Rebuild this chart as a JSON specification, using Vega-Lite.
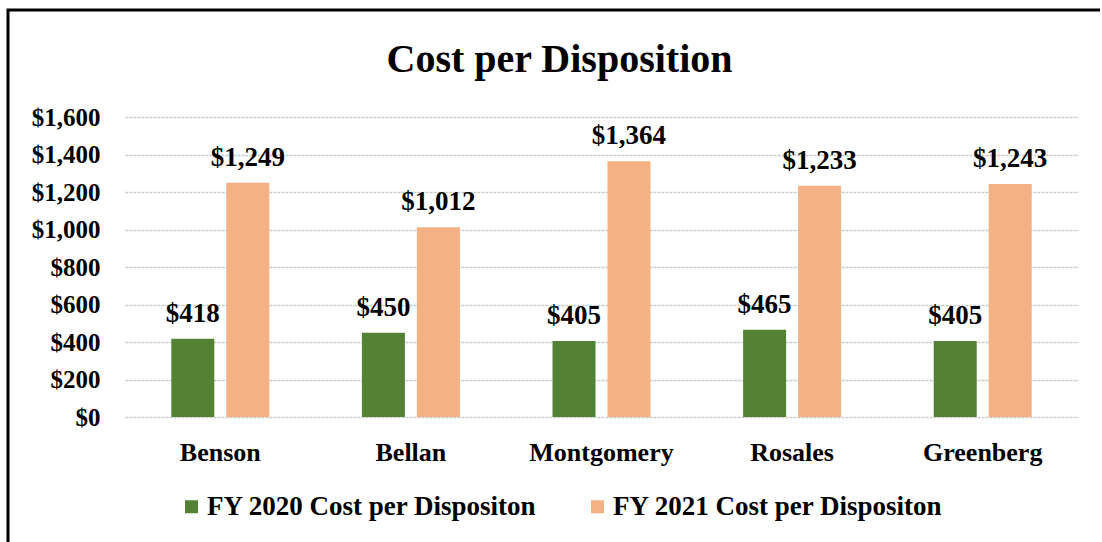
{
  "$schema": "https://vega.github.io/schema/vega-lite/v6.json",
  "width": 953,
  "height": 300,
  "autosize": {"type": "none"},
  "padding": {"left": 125, "top": 117, "right": 22, "bottom": 125},
  "background": "white",
  "title": {"text": "Cost per Disposition", "font": "Liberation Serif", "fontSize": 40, "fontWeight": "bold", "color": "black", "anchor": "middle", "dx": -42, "baseline": "alphabetic", "offset": 0, "dy": 103},
  "data": {"values": [
    {"judge": "Benson", "series": "FY 2020 Cost per Dispositon", "cost": 418},
    {"judge": "Benson", "series": "FY 2021 Cost per Dispositon", "cost": 1249},
    {"judge": "Bellan", "series": "FY 2020 Cost per Dispositon", "cost": 450},
    {"judge": "Bellan", "series": "FY 2021 Cost per Dispositon", "cost": 1012},
    {"judge": "Montgomery", "series": "FY 2020 Cost per Dispositon", "cost": 405},
    {"judge": "Montgomery", "series": "FY 2021 Cost per Dispositon", "cost": 1364},
    {"judge": "Rosales", "series": "FY 2020 Cost per Dispositon", "cost": 465},
    {"judge": "Rosales", "series": "FY 2021 Cost per Dispositon", "cost": 1233},
    {"judge": "Greenberg", "series": "FY 2020 Cost per Dispositon", "cost": 405},
    {"judge": "Greenberg", "series": "FY 2021 Cost per Dispositon", "cost": 1243}
  ]},
  "encoding": {
    "x": {"field": "judge", "type": "nominal", "sort": null, "title": null,
      "scale": {"paddingInner": 0.486, "paddingOuter": 0.243},
      "axis": {"labelAngle": 0, "labelFont": "Liberation Serif", "labelFontWeight": "bold", "labelFontSize": 26, "labelColor": "black", "ticks": false, "domain": false, "labelPadding": 22}},
    "xOffset": {"field": "series", "type": "nominal", "sort": null, "scale": {"paddingInner": 0.218, "paddingOuter": 0}},
    "y": {"field": "cost", "type": "quantitative", "title": null, "scale": {"domain": [0, 1600]},
      "axis": {"values": [0, 200, 400, 600, 800, 1000, 1200, 1400, 1600], "format": "$,.0f", "labelFont": "Liberation Serif", "labelFontWeight": "bold", "labelFontSize": 25, "labelColor": "black", "ticks": false, "domain": false, "labelPadding": 25, "gridColor": "#cccccc", "gridDash": [3, 1], "gridWidth": 1.5}}
  },
  "layer": [
    {"mark": {"type": "bar"},
     "encoding": {"color": {"field": "series", "type": "nominal", "sort": null,
       "scale": {"range": ["#548235", "#f4b183"]},
       "legend": {"title": " ", "titleFontSize": 10, "titlePadding": 303, "orient": "none", "legendX": -117, "legendY": -107, "direction": "horizontal", "padding": 170, "strokeColor": "black", "symbolType": "square", "symbolSize": 169, "symbolStrokeWidth": 0, "labelFont": "Liberation Serif", "labelFontWeight": "bold", "labelFontSize": 27, "labelColor": "black", "labelOffset": 2, "columnPadding": 46, "labelLimit": 0,
         "encode": {"legend": {"update": {"strokeWidth": {"value": 3}}}}}}}},
    {"mark": {"type": "text", "baseline": "alphabetic", "dy": -17, "font": "Liberation Serif", "fontWeight": "bold", "fontSize": 27, "color": "black"},
     "encoding": {"text": {"field": "cost", "type": "quantitative", "format": "$,.0f"}}}
  ],
  "config": {"view": {"stroke": null}}
}
